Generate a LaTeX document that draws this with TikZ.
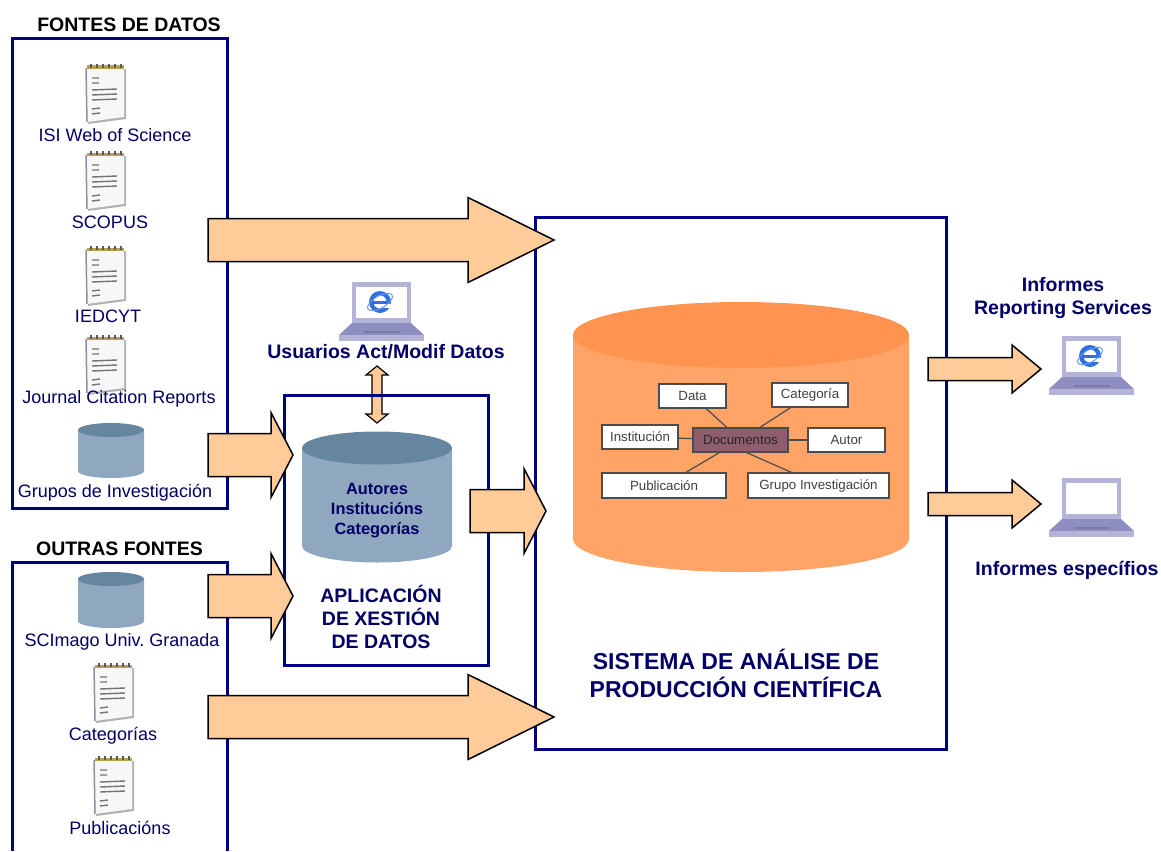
\documentclass[tikz,border=0pt]{standalone}
\usepackage{fontspec}
\setmainfont{Liberation Sans}
\frenchspacing
\usetikzlibrary{positioning}

\definecolor{marco}{HTML}{000080}
\definecolor{rotulo}{HTML}{000066}
\definecolor{frecha}{HTML}{FFCC99}
\definecolor{laranxa}{HTML}{FFA366}
\definecolor{laranxatapa}{HTML}{FF9450}
\definecolor{azul}{HTML}{8FA7BF}
\definecolor{azultapa}{HTML}{66869F}
\definecolor{pantalla}{HTML}{B4B4D8}
\definecolor{teclado}{HTML}{8E8EC0}
\definecolor{iexplorer}{HTML}{2F6FE0}
\definecolor{documento}{HTML}{8F5E6C}
\definecolor{ouro}{HTML}{B8A050}

\tikzset{
	marcobox/.style={draw=marco, line width=3pt},
	fonte/.style={text=rotulo, font=\fontsize{18}{21}\selectfont},
	titulo/.style={font=\fontsize{19.5}{23}\selectfont\bfseries},
	azulbold/.style={text=rotulo, font=\fontsize{19.5}{23}\selectfont\bfseries, align=center},
	tabla/.style={draw=black!70, fill=white, line width=1.1pt, inner sep=0pt, text=black!75, font=\fontsize{13.3}{15}\selectfont},
	frechabox/.style={draw=black, fill=frecha, line width=1.5pt, miter limit=20},
	pics/caderno/.style={code={
		\fill[black!30] (3,6) to (41,6) to (41,56) to (3,61) -- cycle;
		\fill[black!3] (1,5) to (39,5) to (39,54) to (2,59) -- cycle;
		\draw[pantalla!80!black, line width=1.5pt] (1,5) to (2,59);
		\draw[black!55, line width=1.4pt] (7,15) to (14,15) (7,20) to (14,20) (7,27) to (32,26) (7,32) to (32,31) (7,37) to (32,36) (7,46) to (15,45) (7,51) to (15,50);
		\draw[ouro, line width=3pt] (2,4) to (39,4);
		\foreach \x in {6,12,...,36} \draw[black!65, line width=1.2pt] (\x,1) to (\x,5);
	}},
	pics/portatil/.style={code={
		\fill[pantalla] (-29.5,0) rectangle (29.5,41);
		\fill[white] (-25.5,5) rectangle (25.5,36);
		\fill[teclado] (-29.5,41) to (29.5,41) to (42.5,53) to (-42.5,53) -- cycle;
		\fill[pantalla] (-42.5,53) rectangle (42.5,59);
		\fill[black!15!teclado] (-18,49) rectangle (18,51);
	}},
	pics/logoie/.style={code={
		\fill[iexplorer] (0,0) circle (11);
		\fill[white] (0,0) circle (6.5);
		\fill[iexplorer] (-7,-1.5) rectangle (7,1.5);
		\fill[white] (0,1.5) rectangle (12,5.5);
		\draw[iexplorer!70!white, line width=1pt, rotate=30] (0,0) ellipse (14 and 6);
	}},
}

% cilindro: x esquerda, x dereita, y tapa, y fondo, radio, cor corpo, cor tapa
\newcommand{\cilindro}[7]{
	\fill[#6] (#1,#3) to (#1,#4) arc[start angle=180, end angle=0, x radius={(#2-#1)/2}, y radius=#5] to (#2,#3) -- cycle;
	\fill[#7] ({(#1+#2)/2},#3) ellipse ({(#2-#1)/2} and #5);
}
% frecha: x inicio, x cabeza, x punta, y centro, medio corpo, media cabeza
\newcommand{\frecha}[6]{
	\draw[frechabox] (#1,#4-#5) to (#2,#4-#5) to (#2,#4-#6) to (#3,#4) to (#2,#4+#6) to (#2,#4+#5) to (#1,#4+#5) -- cycle;
}

\begin{document}
\begin{tikzpicture}[x=1pt, y=-1pt]
	\useasboundingbox (0,0) rectangle (1161,851);

	% marcos
	\draw[marcobox] (12,39) rectangle (227,508);
	\draw[marcobox] (12,851) to (12,562) to (227,562) to (227,851);
	\draw[marcobox] (535,217) rectangle (946,749);

	\node[titulo] (fontes) at (129,25) {FONTES DE DATOS};
	\node[titulo] (outras) at (119.5,549) {OUTRAS FONTES};

	% fontes de datos
	\pic at (85,63) {caderno};
	\pic at (85,150) {caderno};
	\pic at (85,245) {caderno};
	\pic at (85,334) {caderno};
	\pic at (93,662) {caderno};
	\pic at (93,755) {caderno};
	\cilindro{78}{144}{430}{471}{7}{azul}{azultapa}
	\cilindro{78}{144}{579}{621}{7}{azul}{azultapa}

	\node[fonte] (isi) at (115,135) {ISI Web of Science};
	\node[fonte] (scopus) at (110,222) {SCOPUS};
	\node[fonte] (iedcyt) at (108,316) {IEDCYT};
	\node[fonte] (jcr) at (119,399) {Journal Citation Reports};
	\node[fonte] (grupos) at (115,493) {Grupos de Investigación};
	\node[fonte] (scimago) at (122,642) {SCImago Univ. Granada};
	\node[fonte] (categorias) at (113,736) {Categorías};
	\node[fonte] (publicacions) at (120,828) {Publicacións};

	% usuarios
	\pic at (381.5,282) {portatil};
	\pic at (380,302) {logoie};
	\node[azulbold] (usuarios) at (386,352) {Usuarios Act/Modif Datos};
	\draw[frechabox, line width=1.2pt] (377,366) to (388,375) to (382,375) to (382,414) to (388,414) to (377,423) to (366,414) to (372,414) to (372,375) to (366,375) -- cycle;

	% aplicacion
	\draw[marcobox] (284,395) rectangle (488,665);
	\cilindro{302}{452}{448}{546}{16.5}{azul}{azultapa}
	\node[azulbold, font=\fontsize{16.4}{20}\selectfont\bfseries] (autores) at (377,511) {Autores\\Institucións\\Categorías};
	\node[azulbold] (aplicacion) at (381,617) {APLICACIÓN\\DE XESTIÓN\\DE DATOS};

	% sistema
	\cilindro{573}{909}{335}{539}{33}{laranxa}{laranxatapa}
	\node[azulbold, font=\fontsize{23}{28}\selectfont\bfseries] (sistema) at (736,673) {SISTEMA DE ANÁLISE DE\\PRODUCCIÓN CIENTÍFICA};

	\node[tabla, minimum width=67pt, minimum height=24pt] (data) at (692.5,396) {Data};
	\node[tabla, minimum width=76pt, minimum height=24pt] (categoria) at (810,395) {Categoría};
	\node[tabla, minimum width=76pt, minimum height=24pt] (institucion) at (640,437) {Institución};
	\node[tabla, minimum width=95pt, minimum height=24pt, fill=documento, text=black!85] (documentos) at (740.5,440) {Documentos};
	\node[tabla, minimum width=77pt, minimum height=24pt] (autor) at (846.5,440) {Autor};
	\node[tabla, minimum width=124pt, minimum height=25pt] (publicacion) at (664,485.5) {Publicación};
	\node[tabla, minimum width=141pt, minimum height=25pt] (grupo) at (818.5,485.5) {Grupo Investigación};
	\draw[black!70, line width=1.2pt] (data) to (documentos);
	\draw[black!70, line width=1.2pt] (categoria) to (documentos);
	\draw[black!70, line width=1.2pt] (institucion) to (documentos);
	\draw[black!70, line width=1.2pt] (autor) to (documentos);
	\draw[black!70, line width=1.2pt] (publicacion) to (documentos);
	\draw[black!70, line width=1.2pt] ([xshift=-27pt]grupo.north) to ([xshift=6pt]documentos.south);

	% informes
	\node[azulbold] (reporting) at (1063,298) {Informes\\Reporting Services};
	\pic at (1091.5,336) {portatil};
	\pic at (1090,356) {logoie};
	\pic at (1091.5,478) {portatil};
	\node[azulbold] (especificos) at (1067,570) {Informes específios};

	% frechas
	\frecha{208}{468}{554}{240}{21.5}{42.5}
	\frecha{208}{271}{293}{455}{21.5}{42.5}
	\frecha{208}{271}{293}{596}{21.5}{42.5}
	\frecha{208}{468}{554}{717}{21.5}{42.5}
	\frecha{470}{524}{546}{511}{21.5}{42.5}
	\frecha{928}{1012}{1041}{369}{11.5}{24}
	\frecha{928}{1012}{1041}{504}{11.5}{24}
\end{tikzpicture}
\end{document}
